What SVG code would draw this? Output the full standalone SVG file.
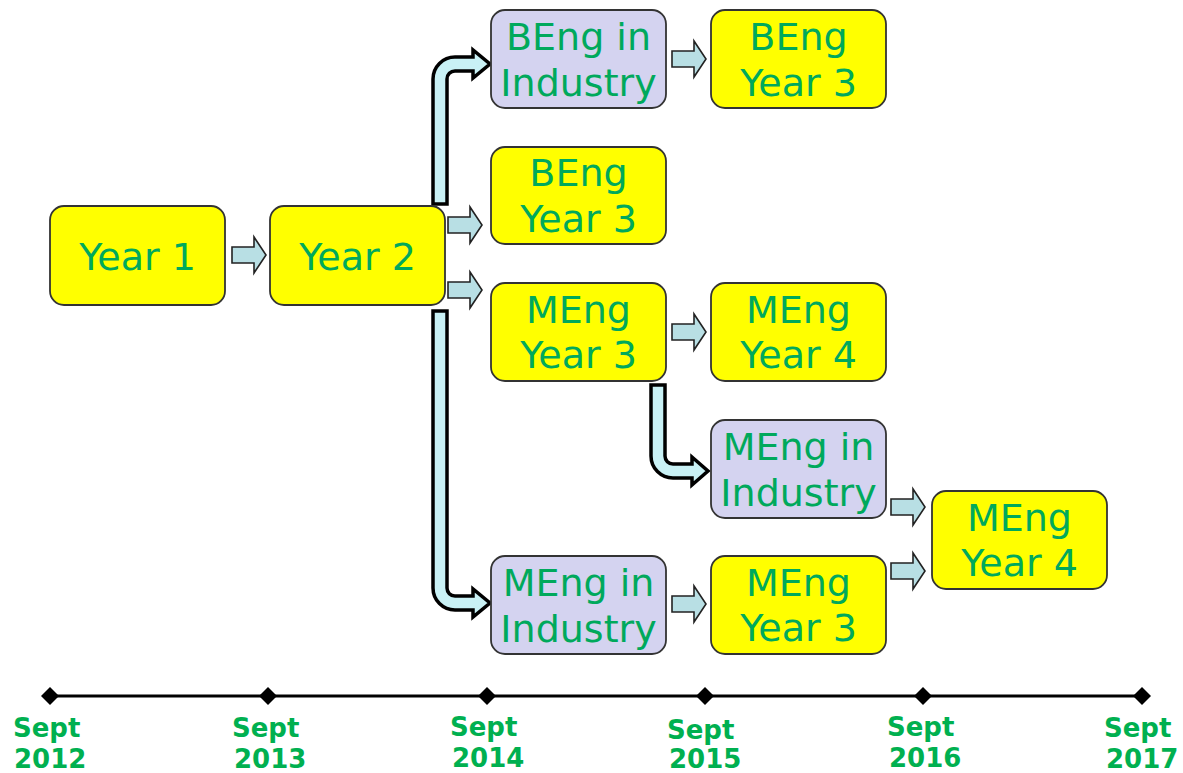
<svg xmlns="http://www.w3.org/2000/svg" width="1183" height="773" viewBox="0 0 1183 773">
<style>
.box{stroke:#333;stroke-width:1.8}
.y{fill:#ffff00}
.p{fill:#d4d3f0}
.t{font-family:"DejaVu Sans",Verdana,sans-serif;font-size:38px;fill:#00a95c;text-anchor:middle}
.tl{font-family:"DejaVu Sans",Verdana,sans-serif;font-size:26px;font-weight:bold;fill:#00b050}
.sa{fill:#b8dfe4;stroke:#222;stroke-width:1.6;stroke-linejoin:miter}
.ba{fill:#c9f1f5;stroke:#000;stroke-width:3.5;stroke-linejoin:miter}
</style>
<defs>
<path id="sarrow" d="M0,-8 L22,-8 L22,-18 L34,0 L22,18 L22,8 L0,8 Z"/>
<path id="dia" d="M0,-9 L9,0 L0,9 L-9,0 Z"/>
</defs>
<rect width="1183" height="773" fill="#fff"/>
<g id="connectors">
<use href="#sarrow" class="sa" x="232" y="255"/>
<use href="#sarrow" class="sa" x="448" y="225"/>
<use href="#sarrow" class="sa" x="448" y="290"/>
<use href="#sarrow" class="sa" x="672" y="59"/>
<use href="#sarrow" class="sa" x="672" y="332"/>
<use href="#sarrow" class="sa" x="672" y="604"/>
<use href="#sarrow" class="sa" x="891" y="507"/>
<use href="#sarrow" class="sa" x="891" y="571"/>
<path class="ba" d="M433,204 L433,79 A22 22 0 0 1 455 57 L473,57 L473,50 L490,64 L473,78 L473,71 L455,71 A8 8 0 0 0 447 79 L447,204 Z"/>
<path class="ba" d="M433,311 L447,311 L447,588 A8 8 0 0 0 455 596 L473,596 L473,589 L490,603 L473,617 L473,610 L455,610 A22 22 0 0 1 433 588 Z"/>
<path class="ba" d="M651,385 L665,385 L665,456 A8 8 0 0 0 673 464 L692,464 L692,457 L708,471 L692,485 L692,478 L673,478 A22 22 0 0 1 651 456 Z"/>
</g>
<g id="year1"><rect class="box y" x="50" y="206" width="175" height="99" rx="14"/><text class="t" x="137.5" y="270">Year 1</text></g>
<g id="year2"><rect class="box y" x="270" y="206" width="175" height="99" rx="14"/><text class="t" x="357.5" y="270">Year 2</text></g>
<g id="beng-industry"><rect class="box p" x="491" y="10" width="175" height="98" rx="14"/><text class="t" x="578.5" y="50">BEng in</text><text class="t" x="578.5" y="96">Industry</text></g>
<g id="beng-year3-top"><rect class="box y" x="711" y="10" width="175" height="98" rx="14"/><text class="t" x="798.5" y="50">BEng</text><text class="t" x="798.5" y="96">Year 3</text></g>
<g id="beng-year3"><rect class="box y" x="491" y="147" width="175" height="97" rx="14"/><text class="t" x="578.5" y="186">BEng</text><text class="t" x="578.5" y="232">Year 3</text></g>
<g id="meng-year3"><rect class="box y" x="491" y="283" width="175" height="98" rx="14"/><text class="t" x="578.5" y="323">MEng</text><text class="t" x="578.5" y="368">Year 3</text></g>
<g id="meng-year4"><rect class="box y" x="711" y="283" width="175" height="98" rx="14"/><text class="t" x="798.5" y="323">MEng</text><text class="t" x="798.5" y="368">Year 4</text></g>
<g id="meng-industry-mid"><rect class="box p" x="711" y="420" width="175" height="98" rx="14"/><text class="t" x="798.5" y="460">MEng in</text><text class="t" x="798.5" y="506">Industry</text></g>
<g id="meng-year4-right"><rect class="box y" x="932" y="491" width="175" height="98" rx="14"/><text class="t" x="1019.5" y="531">MEng</text><text class="t" x="1019.5" y="576">Year 4</text></g>
<g id="meng-industry-bottom"><rect class="box p" x="491" y="556" width="175" height="98" rx="14"/><text class="t" x="578.5" y="596">MEng in</text><text class="t" x="578.5" y="642">Industry</text></g>
<g id="meng-year3-bottom"><rect class="box y" x="711" y="556" width="175" height="98" rx="14"/><text class="t" x="798.5" y="596">MEng</text><text class="t" x="798.5" y="641">Year 3</text></g>
<g id="timeline">
<line x1="50" y1="696" x2="1142" y2="696" stroke="#000" stroke-width="3"/>
<use href="#dia" x="50" y="696"/>
<use href="#dia" x="268" y="696"/>
<use href="#dia" x="487" y="696"/>
<use href="#dia" x="705" y="696"/>
<use href="#dia" x="923" y="696"/>
<use href="#dia" x="1142" y="696"/>
<text class="tl" x="13" y="737">Sept</text><text class="tl" x="14" y="768">2012</text>
<text class="tl" x="232" y="737">Sept</text><text class="tl" x="234" y="768">2013</text>
<text class="tl" x="450" y="736">Sept</text><text class="tl" x="452" y="767">2014</text>
<text class="tl" x="667" y="739">Sept</text><text class="tl" x="669" y="768">2015</text>
<text class="tl" x="887" y="736">Sept</text><text class="tl" x="889" y="767">2016</text>
<text class="tl" x="1104" y="737">Sept</text><text class="tl" x="1106" y="768">2017</text>
</g>
</svg>
